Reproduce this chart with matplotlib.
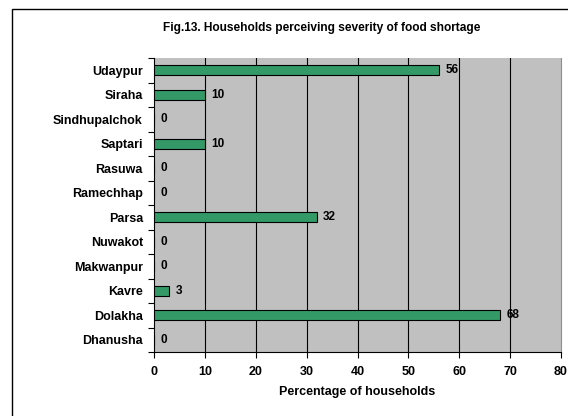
import matplotlib
matplotlib.use("Agg")
import matplotlib.pyplot as plt
from matplotlib.patches import Rectangle
import numpy as np

plt.rcParams['font.family'] = ['Liberation Sans', 'DejaVu Sans']

categories = ["Dhanusha", "Dolakha", "Kavre", "Makwanpur", "Nuwakot", "Parsa",
              "Ramechhap", "Rasuwa", "Saptari", "Sindhupalchok", "Siraha", "Udaypur"]
values = [0, 68, 3, 0, 0, 32, 0, 0, 10, 0, 10, 56]
xticks = [0, 10, 20, 30, 40, 50, 60, 70, 80]

W, H = 568, 416
fig = plt.figure(figsize=(W/100, H/100), dpi=100)
ax = fig.add_axes([154/W, 1-352/H, (561-154)/W, (352-58)/H])
ax.set_facecolor('#C0C0C0')

y = np.arange(len(categories))
ax.barh(y, values, height=0.42, color='#339966', edgecolor='black', linewidth=0.8, zorder=3)
for yi, v in zip(y, values):
    ax.annotate(str(v), (v, yi), xytext=(4.5, 0), textcoords='offset points',
                ha='left', va='center', fontsize=8.5, fontweight='bold', zorder=4)

ax.set_xlim(0, 80)
ax.set_ylim(-0.5, len(categories)-0.5)
ax.set_xticks(xticks)
ax.set_xticklabels([str(t) for t in xticks], fontsize=9, fontweight='bold')
ax.set_yticks(y)
ax.set_yticklabels(categories, fontsize=9, fontweight='bold')
ax.tick_params(axis='y', which='major', length=0, pad=8)
ax.set_yticks(np.arange(-0.5, len(categories), 1), minor=True)
ax.tick_params(axis='y', which='minor', length=4, width=0.8, direction='out')
ax.tick_params(axis='x', length=4, width=0.8, direction='out', pad=6)
for xv in xticks[1:-1]:
    ax.axvline(xv, color='black', linewidth=0.8, zorder=1)
ax.spines['top'].set_visible(False)
ax.spines['right'].set_color('#909090')
ax.spines['left'].set_linewidth(0.8)
ax.spines['bottom'].set_linewidth(0.8)
ax.set_xlabel('Percentage of households', fontsize=9, fontweight='bold', labelpad=6)

fig.text(322/W, 1-28/H, 'Fig.13. Households perceiving severity of food shortage',
         ha='center', va='center', fontsize=8.6, fontweight='bold')

fig.patches.append(Rectangle((12/W, -0.05), 1.2, 1-9/H+0.05, transform=fig.transFigure,
                             fill=False, edgecolor='black', linewidth=1.0))

fig.savefig('out.png', dpi=100)
